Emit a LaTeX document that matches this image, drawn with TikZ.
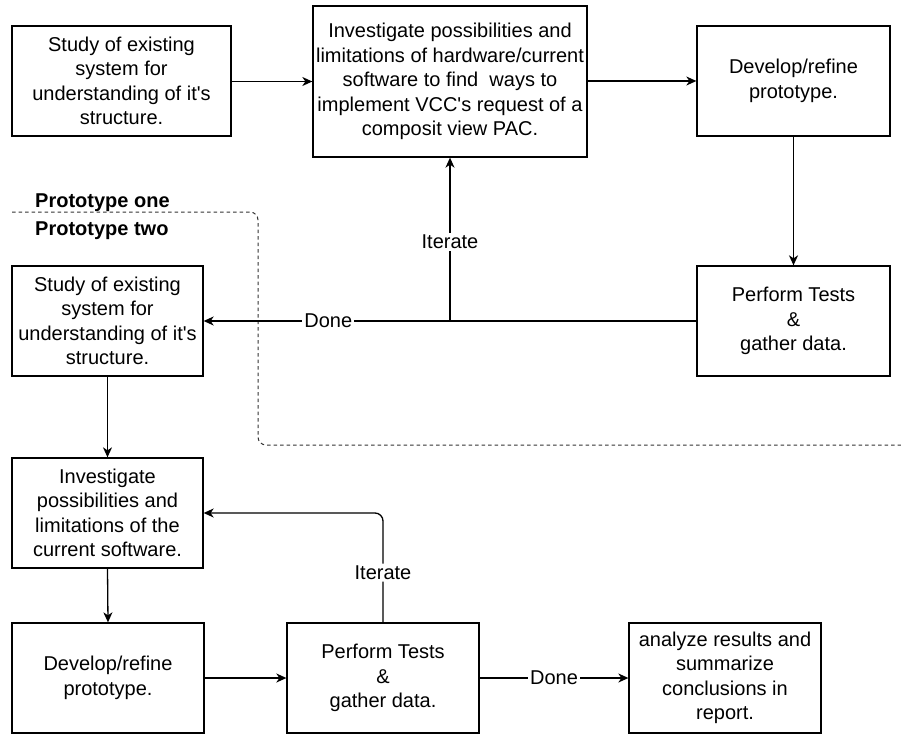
\documentclass[tikz,border=0pt]{standalone}
\usepackage{fontspec}
\setmainfont{Liberation Sans}
\usetikzlibrary{arrows.meta}
\begin{document}
\begin{tikzpicture}[x=1pt,y=-1pt,
  box/.style={draw, line width=1.3pt, align=center, inner sep=0pt,
    minimum height=110pt, font=\fontsize{20}{24.4}\selectfont},
  arr/.style={line width=1.3pt, -{Stealth[length=10pt,width=9pt,inset=3pt]}},
  ln/.style={line width=1.3pt},
  lbl/.style={fill=white, inner sep=2pt, font=\fontsize{20}{24}\selectfont},
  sect/.style={anchor=base west, inner sep=0pt, font=\bfseries\fontsize{20}{24}\selectfont},
  sep/.style={draw=black!80, line width=1pt, dash pattern=on 3.5pt off 3pt, rounded corners=8pt}
  ]
\useasboundingbox (0,0) rectangle (901,733);

% Prototype one
\node[box, minimum width=219pt] (b1) at (121.5,81) {Study of existing\\system for\\understanding of it\textquotesingle s\\structure.};
\node[box, minimum width=274pt, minimum height=151pt] (b2) at (450,81.5) {Investigate possibilities and\\limitations of hardware/current\\software to find\ \ ways to\\implement VCC\textquotesingle s request of a\\composit view PAC.};
\node[box, minimum width=193pt] (b3) at (793.5,81) {Develop/refine\\prototype.};
\node[box, minimum width=193pt] (b4) at (793.5,321) {Perform Tests\\\&\\gather data.};

% Prototype two
\node[box, minimum width=191pt] (b5) at (107.5,321) {Study of existing\\system for\\understanding of it\textquotesingle s\\structure.};
\node[box, minimum width=191pt] (b6) at (107.5,513) {Investigate\\possibilities and\\limitations of the\\current software.};
\node[box, minimum width=192pt] (b7) at (108,678) {Develop/refine\\prototype.};
\node[box, minimum width=192pt] (b8) at (383,678) {Perform Tests\\\&\\gather data.};
\node[box, minimum width=192pt] (b9) at (725,678) {analyze results and\\summarize\\conclusions in\\report.};

% separator
\coordinate (s1) at (12,212);
\coordinate (s2) at (258,212);
\coordinate (s3) at (258,445);
\coordinate (s4) at (901,445);
\draw[sep] (s1) -- (s2) -- (s3) -- (s4);
\node[sect] (p1) at (35,207) {Prototype one};
\node[sect] (p2) at (35,235) {Prototype two};

% connectors, prototype one
\draw[arr] (b1.east |- b2.west) -- (b2.west);
\draw[arr] (b2.east |- b3.west) -- (b3.west);
\draw[arr] (b3.south) -- (b4.north);
\draw[arr] (b4.west) -- node[lbl, pos=0.747] (done1) {Done} (b5.east);
\draw[arr] (b2.south |- b4.west) -- node[lbl, pos=0.485] (it1) {Iterate} (b2.south);

% connectors, prototype two
\draw[arr] (b5.south) -- (b6.north);
\draw[arr] (b6.south) -- (b7.north);
\draw[arr] (b7.east) -- (b8.west);
\draw[arr] (b8.east) -- node[lbl, midway] (done2) {Done} (b9.west);
\draw[arr, rounded corners=8pt] (b8.north) |- node[lbl, pos=0.227] (it2) {Iterate} (b6.east);
\end{tikzpicture}
\end{document}
